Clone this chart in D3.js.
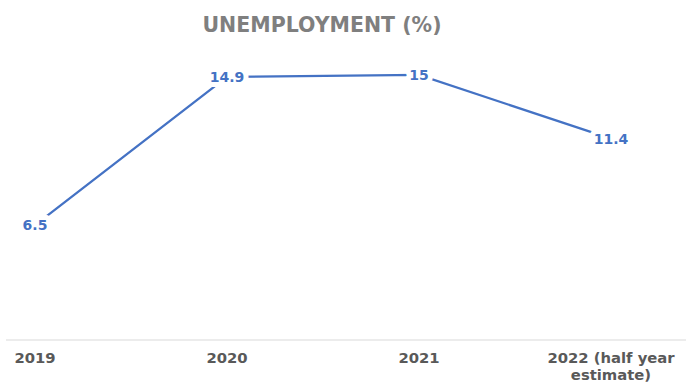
<!DOCTYPE html>
<html>
<head>
<meta charset="utf-8">
<script src="https://cdn.jsdelivr.net/npm/d3@7"></script>
<style>
  body { margin: 0; background: #fff; }
  svg { display: block; font-family: "DejaVu Sans", Verdana, sans-serif; }
</style>
</head>
<body>
<div id="vis-container"></div>
<script>
// chart data
const categories = ["2019", "2020", "2021", "2022 (half year estimate)"];
const categoryLines = [["2019"], ["2020"], ["2021"], ["2022 (half year", "estimate)"]];
const unemployment = [6.5, 14.9, 15, 11.4];

var width = 686,
  height = 384;

var svg = d3
  .select("#vis-container")
  .append("svg")
  .attr("width", width)
  .attr("height", height);

// scales
var x = d3.scalePoint().domain(categories).range([35, 611]);
var y = d3.scaleLinear().domain([0, 15]).range([340, 75]);

// title
svg
  .append("text")
  .attr("x", 322)
  .attr("y", 32)
  .attr("text-anchor", "middle")
  .style("font-size", "20.5px")
  .style("font-weight", "bold")
  .style("fill", "#7f7f7f")
  .text("UNEMPLOYMENT (%)");

// baseline
svg
  .append("line")
  .attr("x1", 6)
  .attr("x2", width)
  .attr("y1", y(0))
  .attr("y2", y(0))
  .style("stroke", "#d9d9d9")
  .style("stroke-width", 1);

// category labels (wrap the long one)
var catText = svg
  .selectAll(".cat")
  .data(categories)
  .enter()
  .append("text")
  .attr("class", "cat")
  .attr("text-anchor", "middle")
  .style("font-size", "14.8px")
  .style("font-weight", "bold")
  .style("fill", "#595959");

catText
  .selectAll("tspan")
  .data((d, i) => categoryLines[i].map((t) => ({ t: t, c: d })))
  .enter()
  .append("tspan")
  .attr("x", (d) => x(d.c))
  .attr("y", (d, i) => 363 + i * 17)
  .text((d) => d.t);

var points = categories.map((c, i) => ({ cat: c, value: unemployment[i] }));

// the line
var line = d3
  .line()
  .x((d) => x(d.cat))
  .y((d) => y(d.value));

svg
  .append("path")
  .datum(points)
  .attr("d", line)
  .style("fill", "none")
  .style("stroke", "#4472c4")
  .style("stroke-width", 2.25);

// value labels with a white halo so the line breaks around them
svg
  .selectAll(".val")
  .data(points)
  .enter()
  .append("text")
  .attr("class", "val")
  .attr("x", (d) => x(d.cat))
  .attr("y", (d) => y(d.value))
  .attr("dy", "0.36em")
  .attr("text-anchor", "middle")
  .style("font-size", "14px")
  .style("font-weight", "bold")
  .style("fill", "#4472c4")
  .style("stroke", "#fff")
  .style("stroke-width", 10)
  .style("paint-order", "stroke")
  .style("stroke-linejoin", "round")
  .text((d) => d.value);
</script>
</body>
</html>
